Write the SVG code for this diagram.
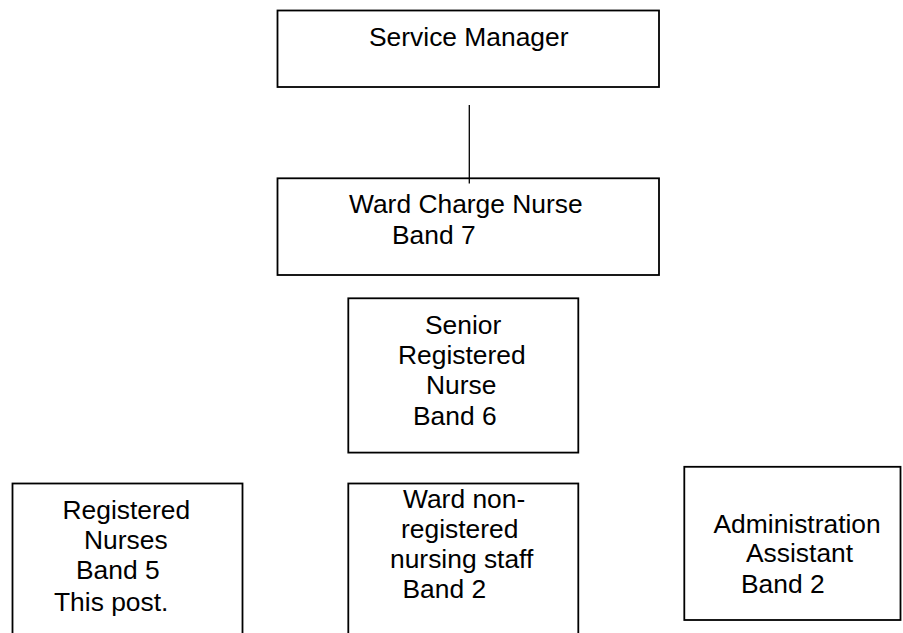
<svg xmlns="http://www.w3.org/2000/svg" width="903" height="633" viewBox="0 0 903 633">
<style>
  .box { fill: #ffffff; stroke: #000000; stroke-width: 1.8; }
  .lbl { font-family: "Liberation Sans", Arial, sans-serif; font-size: 26.4px; fill: #000000; }
  .conn { stroke: #000000; stroke-width: 1.3; fill: none; }
</style>
<rect width="903" height="633" fill="#ffffff"/>
<g id="service-manager">
  <rect class="box" x="277.5" y="10.5" width="381.5" height="76.5"/>
  <text class="lbl" x="369" y="46">Service Manager</text>
</g>
<g id="ward-charge-nurse">
  <rect class="box" x="277.5" y="178.3" width="381.5" height="96.7"/>
  <text class="lbl" x="349" y="213.3">Ward Charge Nurse</text>
  <text class="lbl" x="392" y="244.3">Band 7</text>
</g>
<g id="senior-registered-nurse">
  <rect class="box" x="348.3" y="298.3" width="230" height="154.3"/>
  <text class="lbl" x="425" y="334.3">Senior</text>
  <text class="lbl" x="398" y="364">Registered</text>
  <text class="lbl" x="426" y="393.5">Nurse</text>
  <text class="lbl" x="413" y="425">Band 6</text>
</g>
<g id="registered-nurses">
  <rect class="box" x="12.5" y="483.5" width="230" height="160"/>
  <text class="lbl" x="62.5" y="519.3">Registered</text>
  <text class="lbl" x="84" y="549.3">Nurses</text>
  <text class="lbl" x="76" y="579.3">Band 5</text>
  <text class="lbl" x="54" y="610.7">This post.</text>
</g>
<g id="ward-non-registered">
  <rect class="box" x="348.3" y="483.5" width="230" height="160"/>
  <text class="lbl" x="403" y="508.3">Ward non-</text>
  <text class="lbl" x="401" y="538.3">registered</text>
  <text class="lbl" x="390" y="568.3">nursing staff</text>
  <text class="lbl" x="402.5" y="598.3">Band 2</text>
</g>
<g id="administration-assistant">
  <rect class="box" x="684.3" y="466.8" width="216.2" height="153.2"/>
  <text class="lbl" x="713.5" y="532.7">Administration</text>
  <text class="lbl" x="746" y="562.3">Assistant</text>
  <text class="lbl" x="741" y="593.3">Band 2</text>
</g>
<g id="connectors">
  <line class="conn" x1="469.3" y1="105" x2="469.3" y2="183.5"/>
</g>
</svg>
